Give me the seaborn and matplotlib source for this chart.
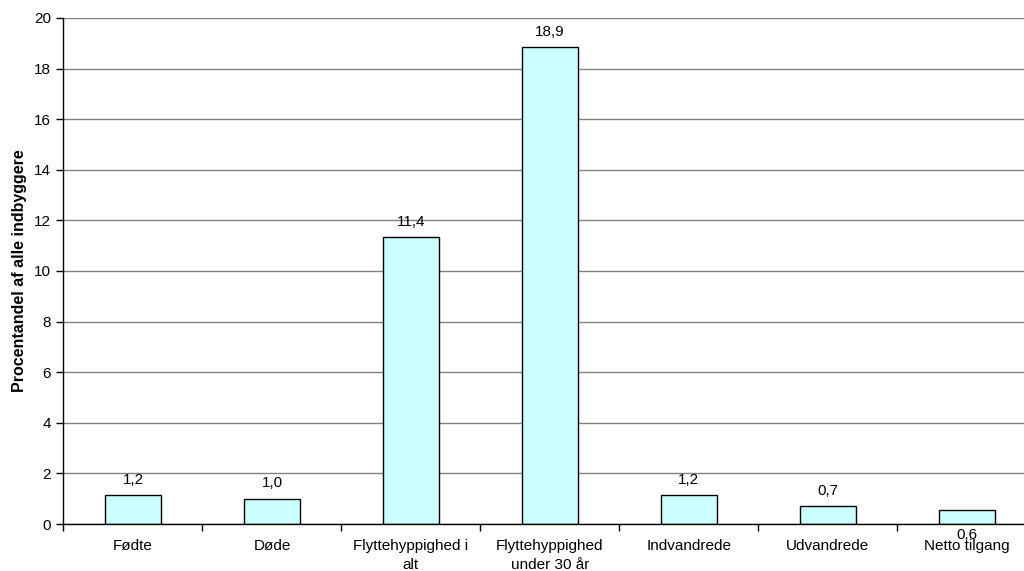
import pandas as pd
import numpy as np
import matplotlib.pyplot as plt
import seaborn as sns

categories = ["Fødte", "Døde", "Flyttehyppighed i\nalt", "Flyttehyppighed\nunder 30 år",
              "Indvandrede", "Udvandrede", "Netto tilgang"]
values = [1.15, 1.0, 11.35, 18.85, 1.15, 0.72, 0.57]
value_labels = ["1,2", "1,0", "11,4", "18,9", "1,2", "0,7", "0,6"]

df = pd.DataFrame({"Kategori": categories, "Andel": values})

sns.set_theme(style="white")
plt.rcParams['font.family'] = ['Liberation Sans', 'DejaVu Sans']
plt.rcParams['text.color'] = 'black'
plt.rcParams['xtick.color'] = 'black'
plt.rcParams['ytick.color'] = 'black'
plt.rcParams['axes.labelcolor'] = 'black'

fig = plt.figure(figsize=(10.24, 5.71), dpi=100)
ax = fig.add_axes([0.062, 0.0823, 0.950, 0.8862])

sns.barplot(data=df, x="Kategori", y="Andel", order=categories, color="#CCFFFF",
            edgecolor="black", linewidth=1, width=0.40, saturation=1, ax=ax)

ax.set_ylim(0, 20)
ax.set_xlim(-0.5, len(categories) - 0.5)
ax.set_yticks(np.arange(0, 21, 2))
ax.yaxis.grid(True, color="#808080", linewidth=1)
ax.set_axisbelow(True)

for s in ["top", "right"]:
    ax.spines[s].set_visible(False)
for s in ["left", "bottom"]:
    ax.spines[s].set_color("black")
    ax.spines[s].set_linewidth(1)

fs = 11
ax.tick_params(axis="y", which="major", left=True, length=5, width=1,
               labelsize=fs, pad=4)
ax.tick_params(axis="x", which="major", bottom=False, length=0, labelsize=fs, pad=11)
ax.set_xticks(np.arange(-0.5, len(categories)), minor=True)
ax.tick_params(axis="x", which="minor", bottom=True, length=5, width=1)
for t in ax.get_xticklabels():
    t.set_linespacing(1.45)

ax.set_xlabel("")
ax.set_ylabel("Procentandel af alle indbyggere", fontsize=11.5, fontweight="bold", labelpad=5)

for i, (v, lab) in enumerate(zip(values, value_labels)):
    if i == len(values) - 1:
        ax.annotate(lab, (i, 0), xytext=(0, -8), textcoords="offset points",
                    ha="center", va="center", fontsize=fs)
    else:
        ax.annotate(lab, (i, v), xytext=(0, 11), textcoords="offset points",
                    ha="center", va="center", fontsize=fs)

fig.savefig("out.png", dpi=100)
